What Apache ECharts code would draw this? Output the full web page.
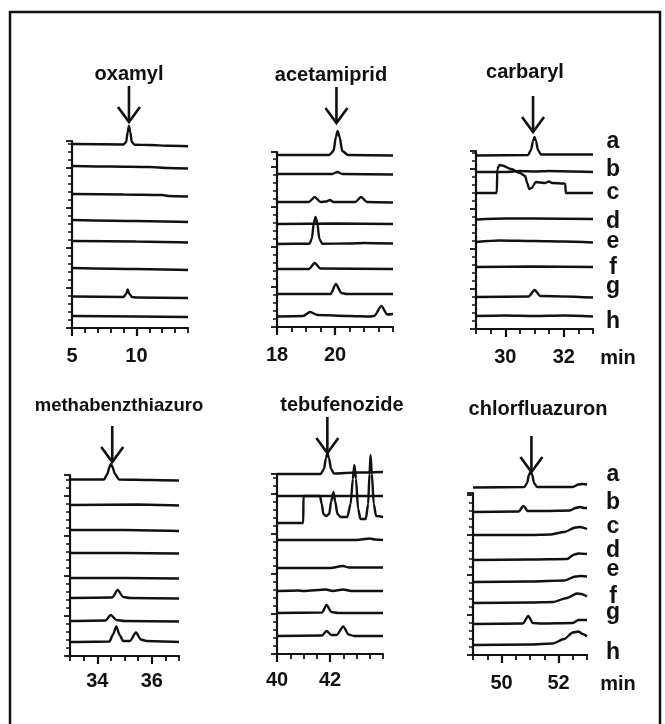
<!DOCTYPE html>
<html><head><meta charset="utf-8">
<script src="https://cdn.jsdelivr.net/npm/echarts@6/dist/echarts.min.js"></script>
<style>html,body{margin:0;padding:0;background:#fff}#c{width:665px;height:724px}</style>
</head><body><div id="c"></div>
<script>
// ---------- data ----------
const traceNames = ['a','b','c','d','e','f','g','h'];
const compounds = ['oxamyl','acetamiprid','carbaryl','methabenzthiazuro','tebufenozide','chlorfluazuron'];
const timeRanges = [[5,14],[18,22],[29,33],[33,37],[40,44],[49,53]];
const tickIntervals = [1,0.5,0.5,0.5,0.5,0.5];
const tickLabels = [[5,10],[18,20],[30,32],[34,36],[40,42],[50,52]];
const arrowTimes = [9.42, 20.05, 30.95, 34.55, 41.9, 51.05];
const arrowTipLevels = [206, 204, 197, 194, 201, 183];
const unitLabel = 'min';

const oxamylTraces = [
 [[5,184],[9.0,183.5],[9.2,186],[9.32,196],[9.42,202],[9.52,196],[9.64,186],[9.85,183.3],[11,183],[12.5,182.2],[14,181.8]],
 [[5,162],[8,161.5],[11,161],[12.5,160],[14,159.5]],
 [[5,134],[9,133.5],[12,133],[12.5,132],[14,131.5]],
 [[5,108],[10,107],[14,106]],
 [[5,87],[10,86.5],[14,85.5]],
 [[5,60],[10,59],[14,58]],
 [[5,31.5],[9.0,31],[9.2,34],[9.32,38.5],[9.45,34],[9.65,31],[10,30.5],[14,30]],
 [[5,12],[10,11.5],[14,11]]
];
const acetamipridTraces = [
 [[18,172],[19.8,172],[19.95,176],[20.03,190],[20.09,196],[20.16,190],[20.25,176],[20.45,172],[22,171.5]],
 [[18,153],[19.9,153],[20.08,155],[20.25,153],[22,152.5]],
 [[18,125],[19.1,125],[19.3,130],[19.5,125],[19.7,125.5],[19.82,127],[19.95,125],[20.7,125],[20.9,130],[21.1,125],[22,124.5]],
 [[18,103],[20,103.5],[22,103]],
 [[18,83],[19.12,83.3],[19.2,88],[19.27,104],[19.33,110],[19.39,104],[19.46,88],[19.56,83.3],[20.5,83.5],[21,84],[22,83.5]],
 [[18,58],[19.1,58],[19.3,64],[19.5,58.5],[22,58]],
 [[18,33],[19.85,33],[20.03,43],[20.22,34],[20.4,33],[22,33]],
 [[18,10.5],[18.9,11],[19.14,15],[19.4,12],[20.5,11],[21.2,10.5],[21.35,11],[21.6,21],[21.8,12.5],[22,13]]
];
const carbarylTraces = [
 [[29,173.5],[30.78,174],[30.88,179],[30.95,188],[31.0,192],[31.05,188],[31.12,179],[31.22,174.5],[33,174.5]],
 [[29,157],[30,157],[30.5,158],[31,157.5],[31.5,158],[33,157]],
 [[29,136],[29.71,136],[29.73,160],[29.8,164],[29.9,163.5],[30.2,160],[30.5,156],[30.68,153],[30.75,146],[30.82,140],[30.9,141],[31.05,147],[31.2,146.5],[31.35,146],[31.5,147.5],[31.6,146],[32.0,145.5],[32.05,145],[32.07,136],[33,136]],
 [[29,109.5],[30,110.5],[31,110.5],[33,110]],
 [[29,87],[29.8,88.5],[31,88],[32,87.5],[33,86.5]],
 [[29,62],[31,62.5],[33,62]],
 [[29,32],[30.8,32.5],[31.0,39],[31.2,33],[33,31.5]],
 [[29,13],[30,13.5],[31,13],[32,13.5],[33,12.5]]
];
const methabenzthiazuronTraces = [
 [[33,176.5],[34.25,176.5],[34.37,182],[34.45,189],[34.5,192],[34.56,189],[34.65,182],[34.8,176.5],[36,176],[37,175.5]],
 [[33,151],[35.5,151.5],[37,150.5]],
 [[33,126],[35,126],[37,125]],
 [[33,103],[35,103],[37,102.5]],
 [[33,78],[35,78],[37,77.5]],
 [[33,58],[34.55,58.5],[34.75,66],[34.95,59],[35.2,58],[37,57.5]],
 [[33,35],[34.3,35.5],[34.5,41],[34.7,36],[35,35],[37,34.5]],
 [[33,14],[34.45,14.5],[34.57,21],[34.7,29.5],[34.82,21],[34.95,15],[35.2,15],[35.42,23.5],[35.6,16.5],[35.8,15],[37,14]]
];
const tebufenozideTraces = [
 [[40,180],[41.65,180],[41.77,185],[41.85,196],[41.9,201],[41.96,196],[42.04,185],[42.15,180.5],[43,181.5],[44,182]],
 [[40,158],[42,158],[44,158]],
 [[40,131],[40.99,131],[41.0,158],[41.62,158],[41.69,150],[41.75,140],[41.85,138],[41.97,140],[42.04,152],[42.13,162],[42.2,152],[42.28,140],[42.4,137],[42.65,137],[42.78,150],[42.86,175],[42.92,189],[42.98,175],[43.06,145],[43.15,135],[43.35,135],[43.44,150],[43.49,180],[43.53,199],[43.58,180],[43.65,150],[43.74,138],[44,137]],
 [[40,114],[43,114],[43.5,115.5],[43.7,114.5],[44,114]],
 [[40,86],[42,86],[42.5,88],[42.7,86.5],[44,86.5]],
 [[40,63],[40.8,63.5],[41,63],[41.85,64.5],[42.1,63],[42.5,64.5],[42.8,63],[44,63]],
 [[40,41],[41.7,41.5],[41.87,49],[42.05,42],[42.3,41],[44,41]],
 [[40,18],[41.7,18.5],[41.87,23],[42.05,19],[42.25,19],[42.5,27.5],[42.7,19.5],[42.9,18],[44,18]]
];
const chlorfluazuronTraces = [
 [[49,167.5],[50.8,168],[50.9,172],[50.96,180],[51.02,183],[51.08,180],[51.14,172],[51.25,168],[52.5,168],[52.7,170.5],[52.85,171],[53,170.5]],
 [[49,143],[50.6,143.5],[50.77,149],[50.92,144],[51.5,144],[52.4,144.5],[52.6,147],[52.75,148],[52.9,147],[53,147]],
 [[49,120],[51,120],[51.7,120.5],[52.2,123],[52.6,127.5],[52.75,128],[53,126]],
 [[49,95],[51,95.5],[52.3,96],[52.55,100.5],[52.7,101.5],[53,101]],
 [[49,73],[51,73.5],[52.2,74.5],[52.6,78.5],[52.8,79],[53,78.5]],
 [[49,52],[51,52.5],[51.8,53],[52.3,57],[52.65,61.5],[52.8,61],[53,58.5]],
 [[49,31],[50.75,31.5],[50.94,39],[51.1,32],[51.4,31.5],[52.5,32],[52.7,35],[53,35]],
 [[49,10],[51,10.5],[51.8,11.5],[52.2,16],[52.5,22.5],[52.7,23.5],[52.85,21],[53,18.5]]
];
const panelTraces = [oxamylTraces, acetamipridTraces, carbarylTraces, methabenzthiazuronTraces, tebufenozideTraces, chlorfluazuronTraces];

// ---------- layout ----------
const FONT = '"Liberation Sans", Arial, sans-serif';
const gridBoxes = [
 {left:72, top:141, width:116, height:187},
 {left:277, top:152, width:116, height:175},
 {left:476, top:151, width:117, height:178},
 {left:70, top:475, width:109, height:181},
 {left:277, top:474, width:106, height:180},
 {left:473, top:493, width:114, height:162}
];
const titlePos = [[129,74],[331,75],[525,72],[119,406],[342,405],[538,409]];
const titleSizes = [20,20,20,18.5,20,20];
const labelMargins = [18,18,18,15,16,18];
const letterColumns = [
 {x:613, ys:[142,170,193,222,242,268,287,322]},
 {x:613, ys:[475,503,527,551,570,597,613,653]}
];
const minPos = [[618,358],[618,684]];

const chart = echarts.init(document.getElementById('c'), null, {renderer:'canvas'});
const grid = [], xAxis = [], yAxis = [], series = [];
gridBoxes.forEach((g, p) => {
  grid.push({left:g.left, top:g.top, width:g.width, height:g.height, containLabel:false});
  const [mn, mx] = timeRanges[p];
  xAxis.push({type:'value', gridIndex:p, position:'bottom', min:mn, max:mx, interval:tickIntervals[p],
    axisLine:{show:true, onZero:false, lineStyle:{color:'#111', width:2.2}},
    axisTick:{show:true, length:5, lineStyle:{color:'#111', width:1.8}},
    axisLabel:{show:false}, splitLine:{show:false}});
  xAxis.push({type:'value', gridIndex:p, position:'bottom', offset:0, min:mn, max:mx,
    axisLine:{show:false, onZero:false},
    axisTick:{show:true, length:8, customValues:tickLabels[p], lineStyle:{color:'#111', width:2.2}},
    axisLabel:{show:true, customValues:tickLabels[p], fontFamily:FONT, fontWeight:'bold', fontSize:20, color:'#111', margin:labelMargins[p]},
    splitLine:{show:false}});
  yAxis.push({type:'value', gridIndex:p, min:0, max:g.height, interval:40,
    axisLine:{show:true, onZero:false, lineStyle:{color:'#111', width:2.2}},
    axisTick:{show:true, length:6, lineStyle:{color:'#111', width:1.8}},
    minorTick:{show:true, splitNumber:5, length:4, lineStyle:{color:'#111', width:1.5}},
    axisLabel:{show:false}, splitLine:{show:false}, minorSplitLine:{show:false}});
  panelTraces[p].forEach((tr, k) => {
    series.push({type:'line', name:compounds[p]+' '+traceNames[k], xAxisIndex:2*p, yAxisIndex:p,
      data:tr, symbol:'none', clip:false, smooth:0.25, smoothMonotone:'x', silent:true,
      lineStyle:{color:'#111', width:2.4}});
  });
});

chart.setOption({animation:false, backgroundColor:'#fff', grid, xAxis, yAxis, series});

const graphic = [];
graphic.push({type:'polyline', shape:{points:[[10,730],[10,12],[660,12],[660,730]]}, style:{stroke:'#111', lineWidth:2.5, fill:null}});
compounds.forEach((name, p) => {
  graphic.push({type:'text', x:titlePos[p][0], y:titlePos[p][1],
    style:{text:name, font:'bold '+titleSizes[p]+'px '+FONT, fill:'#111', textAlign:'center', textVerticalAlign:'middle'}});
  const tip = chart.convertToPixel({gridIndex:p}, [arrowTimes[p], arrowTipLevels[p]]);
  const tx = tip[0], ty = tip[1];
  graphic.push({type:'line', shape:{x1:tx, y1:ty-36, x2:tx, y2:ty}, style:{stroke:'#111', lineWidth:2.6}});
  graphic.push({type:'polyline', shape:{points:[[tx-11,ty-15],[tx,ty],[tx+11,ty-15]]}, style:{stroke:'#111', lineWidth:2.6, fill:null}});
});
letterColumns.forEach(col => {
  col.ys.forEach((y, k) => {
    graphic.push({type:'text', x:col.x, y:y, style:{text:traceNames[k], font:'bold 23px '+FONT, fill:'#111', textAlign:'center', textVerticalAlign:'middle'}});
  });
});
minPos.forEach(pos => {
  graphic.push({type:'text', x:pos[0], y:pos[1], style:{text:unitLabel, font:'bold 20px '+FONT, fill:'#111', textAlign:'center', textVerticalAlign:'middle'}});
});
chart.setOption({graphic});
</script></body></html>
